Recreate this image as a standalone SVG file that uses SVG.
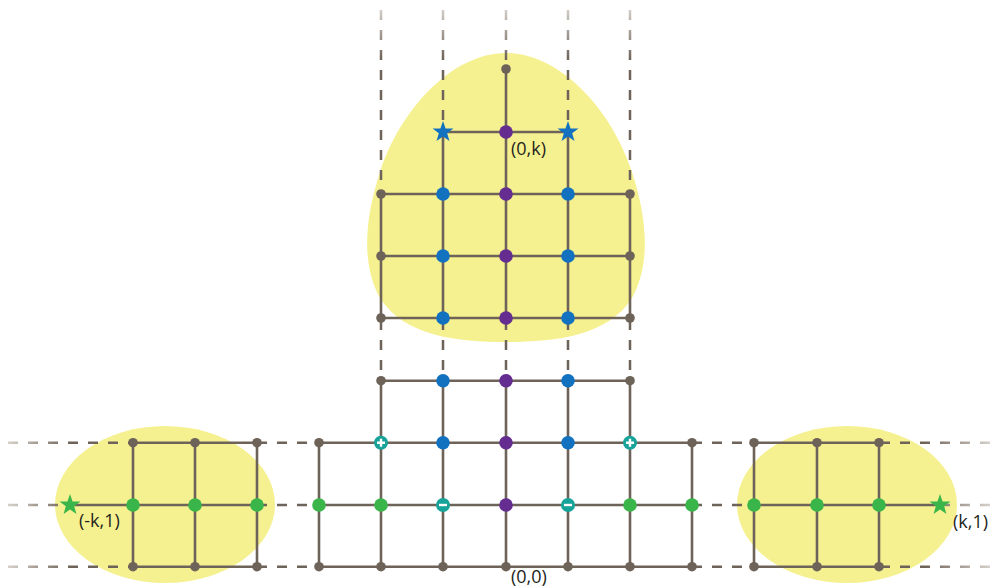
<svg xmlns="http://www.w3.org/2000/svg" xmlns:xlink="http://www.w3.org/1999/xlink" width="998" height="587" viewBox="0 0 998 587">
<defs>
<linearGradient id="gv" gradientUnits="userSpaceOnUse" x1="0" y1="8" x2="0" y2="60"><stop offset="0" stop-color="#d6d0ca"/><stop offset="1" stop-color="#6e6358"/></linearGradient>
<linearGradient id="gl" gradientUnits="userSpaceOnUse" x1="8" y1="0" x2="70" y2="0"><stop offset="0" stop-color="#d6d0ca"/><stop offset="1" stop-color="#6e6358"/></linearGradient>
<linearGradient id="gr" gradientUnits="userSpaceOnUse" x1="990" y1="0" x2="925" y2="0"><stop offset="0" stop-color="#d6d0ca"/><stop offset="1" stop-color="#6e6358"/></linearGradient>
<polygon id="star" points="0,-11 2.59,-3.56 10.46,-3.4 4.18,1.36 6.47,8.9 0,4.4 -6.47,8.9 -4.18,1.36 -10.46,-3.4 -2.59,-3.56"/>
<g id="plus"><circle r="7" fill="#17a39a"/><path d="M-4,0H4M0,-4V4" stroke="#fff" stroke-width="2.4"/></g>
<g id="minus"><circle r="7" fill="#17a39a"/><path d="M-4,0H4" stroke="#fff" stroke-width="2.4"/></g>
</defs>
<style>
.blob{fill:#f6f190}
.dash{fill:none;stroke-width:2.5;stroke-dasharray:10 10}
.grid{fill:none;stroke:#6e6358;stroke-width:2.6}
.g{fill:#6e6358}
.b{fill:#1272bf}
.p{fill:#662d91}
.gr{fill:#39b54a}
.lbl{font-family:"Open Sans","Liberation Sans",sans-serif;font-size:18px;fill:#231f20}
</style>
<g id="blobs">
<path class="blob" d="M506,53 C560,53 612,110 632,172 C646,215 652,262 632,298 C608,336 555,342 506,342 C457,342 404,336 380,298 C360,262 366,215 380,172 C400,110 452,53 506,53 Z"/>
<ellipse class="blob" cx="165" cy="504.5" rx="110" ry="78.5"/>
<ellipse class="blob" cx="847" cy="504.5" rx="110" ry="78.5"/>
</g>
<g id="connectors">
<path class="dash" style="stroke:url(#gv)" d="M381,10V194M443,10V132M506,10V69M568,10V132M630,10V194"/>
<path class="dash" style="stroke:#6e6358" d="M381,320V380M443,320V380M506,320V380M568,320V380M630,320V380"/>
<path class="dash" style="stroke:url(#gl)" d="M8,442.7H133M8,505H70M8,566.7H133"/>
<path class="dash" style="stroke:url(#gr)" d="M990,442.7H879M990,505H940M990,566.7H879"/>
<path class="dash" style="stroke:#6e6358" d="M257,442.7H319M257,505H319M257,566.7H319M692,442.7H754M692,505H754M692,566.7H754"/>
<path class="grid" d="M506,69V318M443,132H568M381,194H630M381,256H630M381,318H630M381,194V318M443,132V318M568,132V318M630,194V318"/>
<path class="grid" d="M381,380.7H630M319,442.7H692M319,505H692M319,566.7H692M319,442.7V566.7M381,380.7V566.7M443,380.7V566.7M506,380.7V566.7M568,380.7V566.7M630,380.7V566.7M692,442.7V566.7"/>
<path class="grid" d="M133,442.7H257M70,505H257M133,566.7H257M133,442.7V566.7M195,442.7V566.7M257,442.7V566.7"/>
<path class="grid" d="M754,442.7H879M754,505H940M754,566.7H879M754,442.7V566.7M817,442.7V566.7M879,442.7V566.7"/>
</g>
<g id="top-grid-nodes">
<circle class="g" cx="506" cy="69" r="4.8"/>
<use xlink:href="#star" x="443" y="132" fill="#1272bf"/>
<circle class="p" cx="506" cy="132" r="6.8"/>
<use xlink:href="#star" x="568" y="132" fill="#1272bf"/>
<circle class="g" cx="381" cy="194" r="4.8"/><circle class="b" cx="443" cy="194" r="6.8"/><circle class="p" cx="506" cy="194" r="6.8"/><circle class="b" cx="568" cy="194" r="6.8"/><circle class="g" cx="630" cy="194" r="4.8"/>
<circle class="g" cx="381" cy="256" r="4.8"/><circle class="b" cx="443" cy="256" r="6.8"/><circle class="p" cx="506" cy="256" r="6.8"/><circle class="b" cx="568" cy="256" r="6.8"/><circle class="g" cx="630" cy="256" r="4.8"/>
<circle class="g" cx="381" cy="318" r="4.8"/><circle class="b" cx="443" cy="318" r="6.8"/><circle class="p" cx="506" cy="318" r="6.8"/><circle class="b" cx="568" cy="318" r="6.8"/><circle class="g" cx="630" cy="318" r="4.8"/>
<text class="lbl" x="511" y="155">(0,k)</text>
</g>
<g id="center-grid-nodes">
<circle class="g" cx="381" cy="380.7" r="4.8"/><circle class="b" cx="443" cy="380.7" r="6.8"/><circle class="p" cx="506" cy="380.7" r="6.8"/><circle class="b" cx="568" cy="380.7" r="6.8"/><circle class="g" cx="630" cy="380.7" r="4.8"/>
<circle class="g" cx="319" cy="442.7" r="4.8"/><use xlink:href="#plus" x="381" y="442.7"/><circle class="b" cx="443" cy="442.7" r="6.8"/><circle class="p" cx="506" cy="442.7" r="6.8"/><circle class="b" cx="568" cy="442.7" r="6.8"/><use xlink:href="#plus" x="630" y="442.7"/><circle class="g" cx="692" cy="442.7" r="4.8"/>
<circle class="gr" cx="319" cy="505" r="6.8"/><circle class="gr" cx="381" cy="505" r="6.8"/><use xlink:href="#minus" x="443" y="505"/><circle class="p" cx="506" cy="505" r="6.8"/><use xlink:href="#minus" x="568" y="505"/><circle class="gr" cx="630" cy="505" r="6.8"/><circle class="gr" cx="692" cy="505" r="6.8"/>
<circle class="g" cx="319" cy="566.7" r="4.8"/><circle class="g" cx="381" cy="566.7" r="4.8"/><circle class="g" cx="443" cy="566.7" r="4.8"/><circle class="g" cx="506" cy="566.7" r="4.8"/><circle class="g" cx="568" cy="566.7" r="4.8"/><circle class="g" cx="630" cy="566.7" r="4.8"/><circle class="g" cx="692" cy="566.7" r="4.8"/>
<text class="lbl" x="511" y="583">(0,0)</text>
</g>
<g id="left-grid-nodes">
<circle class="g" cx="133" cy="442.7" r="4.8"/><circle class="g" cx="195" cy="442.7" r="4.8"/><circle class="g" cx="257" cy="442.7" r="4.8"/>
<use xlink:href="#star" x="70" y="505" fill="#39b54a"/>
<circle class="gr" cx="133" cy="505" r="6.8"/><circle class="gr" cx="195" cy="505" r="6.8"/><circle class="gr" cx="257" cy="505" r="6.8"/>
<circle class="g" cx="133" cy="566.7" r="4.8"/><circle class="g" cx="195" cy="566.7" r="4.8"/><circle class="g" cx="257" cy="566.7" r="4.8"/>
<text class="lbl" x="79" y="527">(-k,1)</text>
</g>
<g id="right-grid-nodes">
<circle class="g" cx="754" cy="442.7" r="4.8"/><circle class="g" cx="817" cy="442.7" r="4.8"/><circle class="g" cx="879" cy="442.7" r="4.8"/>
<circle class="gr" cx="754" cy="505" r="6.8"/><circle class="gr" cx="817" cy="505" r="6.8"/><circle class="gr" cx="879" cy="505" r="6.8"/>
<use xlink:href="#star" x="940" y="505" fill="#39b54a"/>
<circle class="g" cx="754" cy="566.7" r="4.8"/><circle class="g" cx="817" cy="566.7" r="4.8"/><circle class="g" cx="879" cy="566.7" r="4.8"/>
<text class="lbl" x="953" y="528">(k,1)</text>
</g>
</svg>
